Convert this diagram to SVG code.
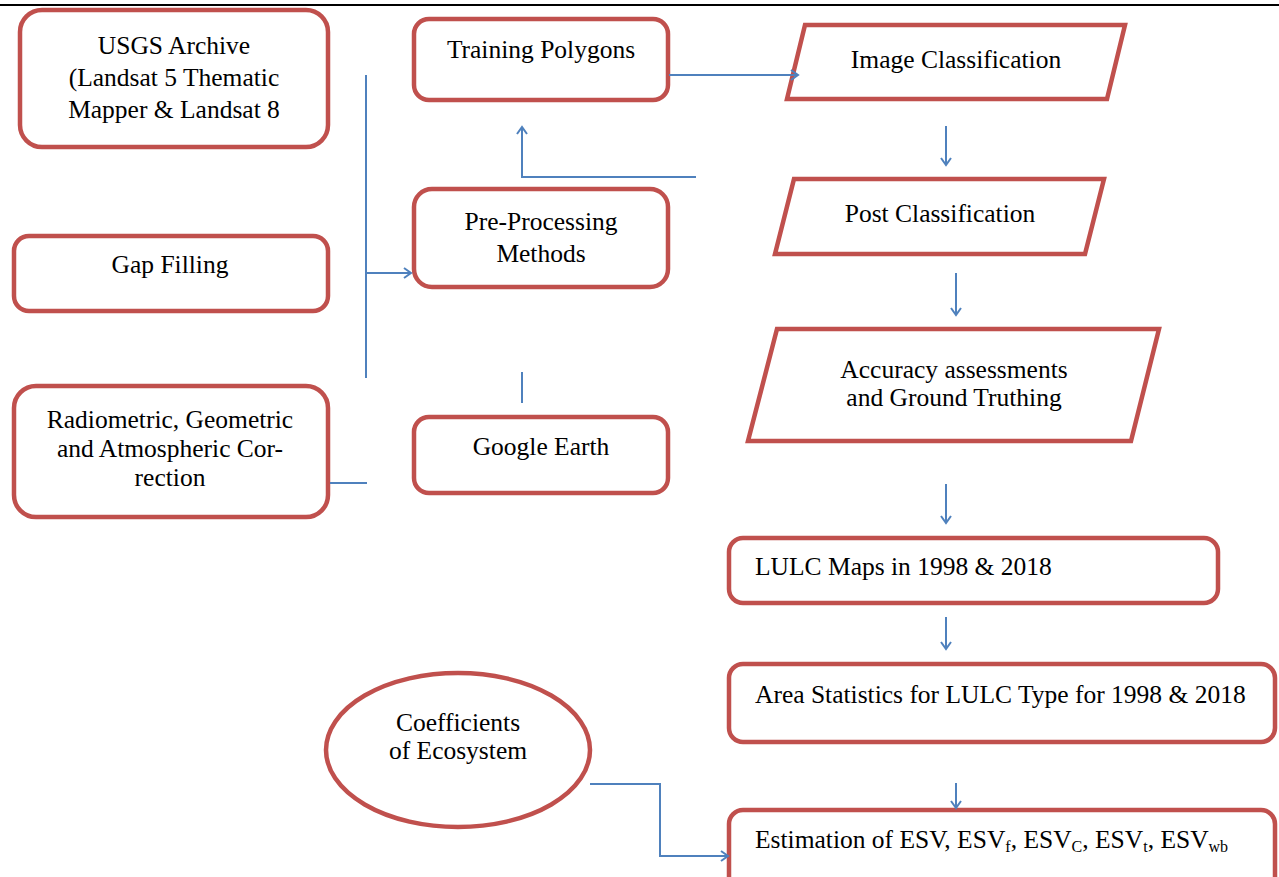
<svg xmlns="http://www.w3.org/2000/svg" width="1279" height="877" viewBox="0 0 1279 877">
<defs>
<style>
.n{fill:#fff;stroke:#C0504D;stroke-width:4.5;stroke-linejoin:miter}
.t{font-family:"Liberation Serif","Times New Roman",serif;font-size:25.5px;fill:#000}
.c{text-anchor:middle}
.s{font-size:16px}
.e{fill:none;stroke:#4F81BD;stroke-width:2}
</style>
<marker id="ah" markerWidth="12" markerHeight="12" refX="9" refY="6" orient="auto" markerUnits="userSpaceOnUse">
<path d="M2,1 L9,6 L2,11" fill="none" stroke="#4F81BD" stroke-width="2"/>
</marker>
</defs>
<rect width="1279" height="877" fill="#fff"/>
<line x1="0" y1="5" x2="1279" y2="5" stroke="#000" stroke-width="2"/>

<g id="usgs"><rect class="n" x="20" y="10" width="308" height="137" rx="22"/>
<text class="t c" x="174" y="54">USGS Archive</text>
<text class="t c" x="174" y="86">(Landsat 5 Thematic</text>
<text class="t c" x="174" y="118">Mapper &amp; Landsat 8</text></g>

<g id="gap"><rect class="n" x="14" y="236" width="314" height="75" rx="15"/>
<text class="t c" x="170" y="273">Gap Filling</text></g>

<g id="radio"><rect class="n" x="14" y="386" width="314" height="131" rx="22"/>
<text class="t c" x="170" y="428">Radiometric, Geometric</text>
<text class="t c" x="170" y="457">and Atmospheric Cor-</text>
<text class="t c" x="170" y="486">rection</text></g>

<g id="training"><rect class="n" x="414" y="19" width="254" height="81" rx="15"/>
<text class="t c" x="541" y="58">Training Polygons</text></g>

<g id="preproc"><rect class="n" x="414" y="189" width="254" height="98" rx="18"/>
<text class="t c" x="541" y="230">Pre-Processing</text>
<text class="t c" x="541" y="262">Methods</text></g>

<g id="google"><rect class="n" x="414" y="417" width="254" height="76" rx="15"/>
<text class="t c" x="541" y="455">Google Earth</text></g>

<g id="imgclass"><polygon class="n" points="805,25 1125,25 1107,99 787,99"/>
<text class="t c" x="956" y="68">Image Classification</text></g>

<g id="postclass"><polygon class="n" points="794,179 1104,179 1085,254 775,254"/>
<text class="t c" x="940" y="222">Post Classification</text></g>

<g id="accuracy"><polygon class="n" points="777,329 1159,329 1131,441 748,441"/>
<text class="t c" x="954" y="378">Accuracy assessments</text>
<text class="t c" x="954" y="406">and Ground Truthing</text></g>

<g id="lulc"><rect class="n" x="729" y="538" width="489" height="65" rx="14"/>
<text class="t" x="755" y="575">LULC Maps in 1998 &amp; 2018</text></g>

<g id="area"><rect class="n" x="729" y="664" width="546" height="78" rx="14"/>
<text class="t" x="755" y="703">Area Statistics for LULC Type for 1998 &amp; 2018</text></g>

<g id="estimation"><rect class="n" x="729" y="810" width="546" height="85" rx="14"/>
<text class="t" x="755" y="848">Estimation of ESV, ESV<tspan class="s" dy="4">f</tspan><tspan dy="-4">, ESV</tspan><tspan class="s" dy="4">C</tspan><tspan dy="-4">, ESV</tspan><tspan class="s" dy="4">t</tspan><tspan dy="-4">, ESV</tspan><tspan class="s" dy="4">wb</tspan></text></g>

<g id="coeff"><ellipse class="n" cx="458" cy="750" rx="132" ry="77"/>
<text class="t c" x="458" y="731">Coefficients</text>
<text class="t c" x="458" y="759">of Ecosystem</text></g>

<g id="connectors">
<line class="e" x1="366" y1="75" x2="366" y2="378"/>
<line class="e" x1="366" y1="273" x2="411" y2="273" marker-end="url(#ah)"/>
<line class="e" x1="330" y1="483" x2="367" y2="483"/>
<line class="e" x1="522" y1="372" x2="522" y2="403"/>
<polyline class="e" points="696,177 522,177 522,127" marker-end="url(#ah)"/>
<line class="e" x1="669" y1="75" x2="798" y2="75" marker-end="url(#ah)"/>
<line class="e" x1="946" y1="126" x2="946" y2="165" marker-end="url(#ah)"/>
<line class="e" x1="956" y1="273" x2="956" y2="315" marker-end="url(#ah)"/>
<line class="e" x1="946" y1="484" x2="946" y2="523" marker-end="url(#ah)"/>
<line class="e" x1="946" y1="617" x2="946" y2="649" marker-end="url(#ah)"/>
<line class="e" x1="956" y1="783" x2="956" y2="808" marker-end="url(#ah)"/>
<polyline class="e" points="590,784 660,784 660,856 728,856" marker-end="url(#ah)"/>
</g>
</svg>
